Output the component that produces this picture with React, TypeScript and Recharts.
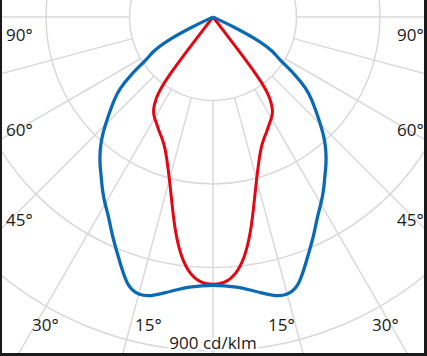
import React from "react";
import { RadarChart, PolarGrid, LineChart, Line, XAxis, YAxis } from "recharts";

// luminous intensity in cd/klm, read every 2.5° from nadir (0°) up to the cut-off
const ANGLE_STEP = 2.5;
const blueIntensity = [
  722, 725, 730, 741, 755, 771, 776, 763, 720, 680, 645, 608, 582, 555, 525, 501, 474, 445, 410, 377, 348,
  318, 270, 210, 188, 150, 62, 0,
];
const redIntensity = [722, 718, 698, 655, 588, 512, 453, 410, 377, 356, 342, 327, 315, 302, 270, 221, 0];

const ringValues = [225, 450, 675, 900];
const gridAngles = [0, 15, 30, 45, 60, 75, 90, 105, 120, 135, 150, 165, 180, 195, 210, 225, 240, 255, 270, 285, 300, 315, 330, 345];

const leftLabels = [
  { text: "90°", x: 6, y: 41 },
  { text: "60°", x: 6, y: 136 },
  { text: "45°", x: 6, y: 226 },
  { text: "30°", x: 32, y: 331 },
  { text: "15°", x: 135, y: 331 },
];
const rightLabels = [
  { text: "15°", x: 268, y: 331 },
  { text: "30°", x: 372, y: 331 },
  { text: "45°", x: 397, y: 226 },
  { text: "60°", x: 397, y: 136 },
  { text: "90°", x: 397, y: 41 },
];
const scaleLabel = "900 cd/klm";

const W = 427;
const H = 356;
const CX = 213;
const CY = 17;
const PX_PER_CD = 334 / 900;

const rad = (d: number) => (d * Math.PI) / 180;

// closed loop: apex -> right half down to nadir -> left half back up to apex
function toLoop(values: number[]) {
  const right = values.map((v, i) => ({ x: v * Math.sin(rad(i * ANGLE_STEP)), y: v * Math.cos(rad(i * ANGLE_STEP)) })).reverse();
  const left = values.slice(1).map((v, i) => ({
    x: -v * Math.sin(rad((i + 1) * ANGLE_STEP)),
    y: v * Math.cos(rad((i + 1) * ANGLE_STEP)),
  }));
  return [...right, ...left];
}

const bluePts = toLoop(blueIntensity);
const redPts = toLoop(redIntensity);

const xDomain = [-CX / PX_PER_CD, (W - CX) / PX_PER_CD];
const yDomain = [-CY / PX_PER_CD, (H - CY) / PX_PER_CD];

const gridData = gridAngles.map((a) => ({ angle: a }));

export default function App() {
  const font = { fontFamily: "'Open Sans', sans-serif", fontSize: 17, fill: "#1a1a1a" };
  return (
    <div style={{ position: "absolute", left: 0, top: 0, width: W, height: H, background: "#fff", overflow: "hidden" }}>
      <div style={{ position: "absolute", left: 0, top: 0 }}>
        <RadarChart
          width={W}
          height={H}
          cx={CX}
          cy={CY}
          innerRadius={ringValues[0] * PX_PER_CD}
          outerRadius={460}
          data={gridData}
          margin={{ top: 0, right: 0, bottom: 0, left: 0 }}
        >
          <PolarGrid
            gridType="circle"
            polarRadius={ringValues.map((v) => v * PX_PER_CD)}
            polarAngles={gridAngles.map((a) => -90 + a)}
            stroke="#d9d9d9"
            strokeWidth={1.5}
          />
        </RadarChart>
      </div>
      <div style={{ position: "absolute", left: 0, top: 0 }}>
        <LineChart width={W} height={H} margin={{ top: 0, right: 0, bottom: 0, left: 0 }}>
          <XAxis type="number" dataKey="x" domain={xDomain} allowDataOverflow hide />
          <YAxis type="number" domain={yDomain} reversed allowDataOverflow hide />
          <Line data={redPts} dataKey="y" type="basis" stroke="#e30613" strokeWidth={3} dot={false} isAnimationActive={false} />
          <Line data={bluePts} dataKey="y" type="basis" stroke="#0b6ab3" strokeWidth={3.3} dot={false} isAnimationActive={false} />
        </LineChart>
      </div>
      <svg width={W} height={H} style={{ position: "absolute", left: 0, top: 0 }}>
        {[...leftLabels, ...rightLabels].map((l, i) => (
          <text key={i} x={l.x} y={l.y} style={font}>
            {l.text}
          </text>
        ))}
        <text
          x={CX}
          y={349}
          textAnchor="middle"
          style={{ ...font, stroke: "#fff", strokeWidth: 5, paintOrder: "stroke" }}
        >
          {scaleLabel}
        </text>
      </svg>
      <div style={{ position: "absolute", left: 0, top: 0, width: 2, height: H, background: "#1a1a1a" }} />
      <div style={{ position: "absolute", right: 0, top: 0, width: 3, height: H, background: "#1a1a1a" }} />
      <div style={{ position: "absolute", left: 0, bottom: 0, width: W, height: 3, background: "#1a1a1a" }} />
    </div>
  );
}
